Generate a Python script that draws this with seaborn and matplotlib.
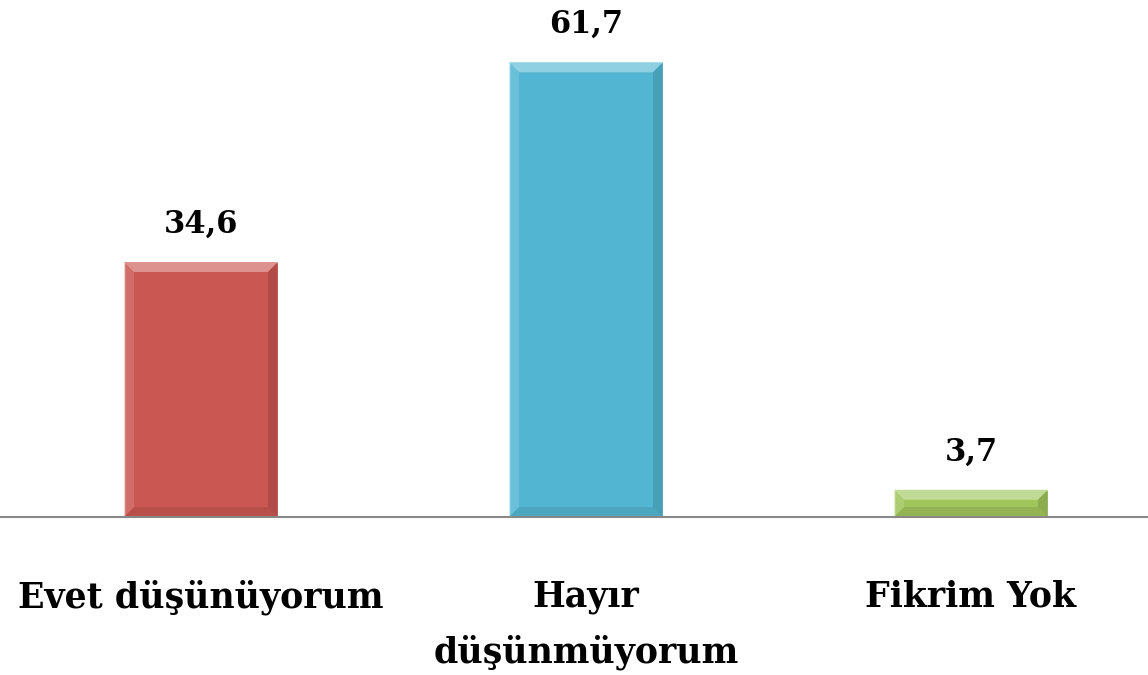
import numpy as np
import matplotlib
matplotlib.use("Agg")
import matplotlib.pyplot as plt
import seaborn as sns
import pandas as pd
from matplotlib.patches import Polygon

categories = ["Evet düşünüyorum", "Hayır\ndüşünmüyorum", "Fikrim Yok"]
values = [34.6, 61.7, 3.7]
value_labels = ["34,6", "61,7", "3,7"]
colors = ["#CB5753", "#52B6D3", "#A0C65C"]

df = pd.DataFrame({"kategori": categories, "yuzde": values})

sns.set_theme(style="white")
plt.rcParams['font.family'] = ['DejaVu Serif']

fig = plt.figure(figsize=(11.48, 6.75), dpi=100)
ax = fig.add_axes([0, 0.234, 1, 0.7644])

sns.barplot(data=df, x="kategori", y="yuzde", hue="kategori", palette=colors,
            width=0.4, legend=False, ax=ax, saturation=1)

ax.set_xlim(-0.522, 2.46)
ax.set_ylim(0, 70)

# simple bevel look, derived from each bar
bw_px = 10
for patch, col in zip(ax.patches, colors):
    x0, w = patch.get_x(), patch.get_width()
    h = patch.get_height()
    dx = bw_px * (ax.get_xlim()[1] - ax.get_xlim()[0]) / (fig.get_figwidth() * fig.dpi)
    dy = bw_px * 70 / (0.7644 * fig.get_figheight() * fig.dpi)
    dy = min(dy, h / 2)
    x1, y1 = x0 + w, h
    base = np.array(matplotlib.colors.to_rgb(col))
    light = base + (1 - base) * 0.35
    dark = base * 0.75
    ax.add_patch(Polygon([(x0, y1), (x1, y1), (x1 - dx, y1 - dy), (x0 + dx, y1 - dy)],
                         closed=True, color=light, lw=0))
    ax.add_patch(Polygon([(x1, y1), (x1, 0), (x1 - dx, dy), (x1 - dx, y1 - dy)],
                         closed=True, color=dark, lw=0, alpha=0.5))
    ax.add_patch(Polygon([(x0, 0), (x1, 0), (x1 - dx, dy), (x0 + dx, dy)],
                         closed=True, color=dark, lw=0, alpha=0.35))
    ax.add_patch(Polygon([(x0, y1), (x0, 0), (x0 + dx, dy), (x0 + dx, y1 - dy)],
                         closed=True, color=light, lw=0, alpha=0.4))

for i, (v, lab) in enumerate(zip(values, value_labels)):
    ax.annotate(lab, (i, v), xytext=(0, 16), textcoords="offset points",
                ha="center", va="bottom", fontsize=22, fontweight="bold", color="black")

for s in ["top", "right", "left"]:
    ax.spines[s].set_visible(False)
ax.spines["bottom"].set_color("#888888")
ax.spines["bottom"].set_linewidth(1.5)
ax.set_yticks([])
ax.set_xlabel("")
ax.set_ylabel("")
ax.tick_params(axis="x", length=0, pad=45, labelsize=25, labelcolor="black")
for t in ax.get_xticklabels():
    t.set_fontweight("bold")
    t.set_va("top")
    t.set_linespacing(1.75)

fig.savefig("out.png", dpi=100)
